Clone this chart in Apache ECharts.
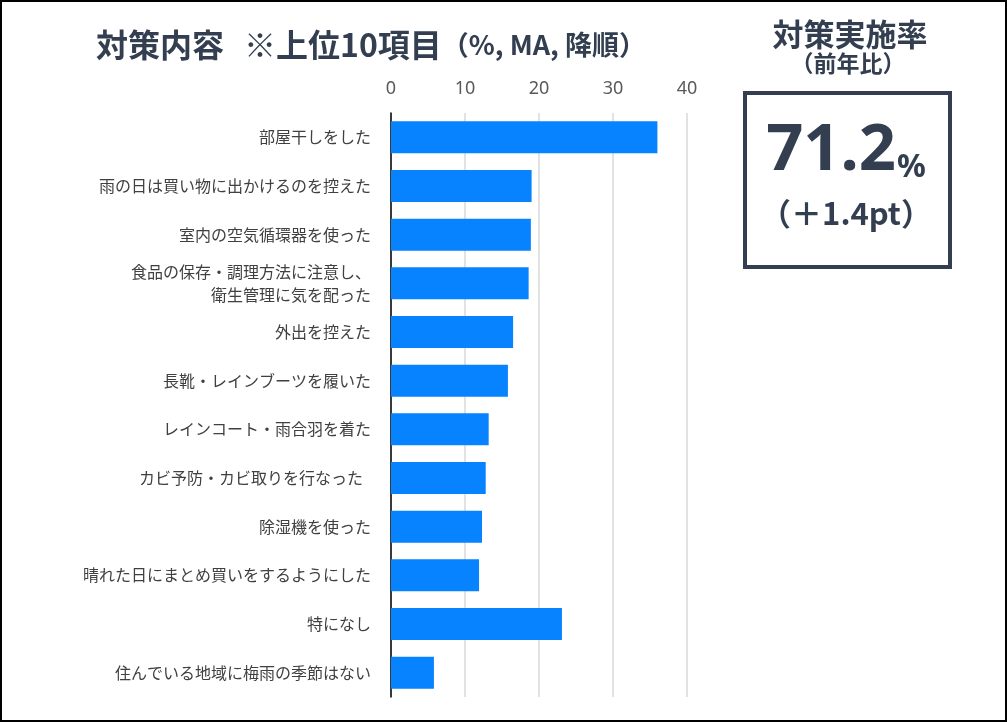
<!DOCTYPE html>
<html><head><meta charset="utf-8">
<script src="https://cdn.jsdelivr.net/npm/echarts@6/dist/echarts.min.js"></script>
<style>html,body{margin:0;padding:0;background:#fff}#c{width:1007px;height:722px}</style>
</head><body><div id="c"></div>
<script>
const categories = [
  '部屋干しをした',
  '雨の日は買い物に出かけるのを控えた',
  '室内の空気循環器を使った',
  '食品の保存・調理方法に注意し、\n衛生管理に気を配った',
  '外出を控えた',
  '長靴・レインブーツを履いた',
  'レインコート・雨合羽を着た',
  'カビ予防・カビ取りを行なった\u2002',
  '除湿機を使った',
  '晴れた日にまとめ買いをするようにした',
  '特になし',
  '住んでいる地域に梅雨の季節はない'
];
const values = [36.0, 19.0, 18.9, 18.6, 16.5, 15.8, 13.2, 12.8, 12.3, 11.9, 23.1, 5.8];
const xTicks = [0, 10, 20, 30, 40];
const rateText = '71.2';
const diffText = '（＋1.4pt）';

const navy = '#333f50';
const chart = echarts.init(document.getElementById('c'));
chart.setOption({
  animation: false,
  backgroundColor: '#fff',
  grid: { left: 391, right: 320, top: 113, bottom: 25, containLabel: false },
  xAxis: {
    type: 'value', position: 'top',
    min: xTicks[0], max: xTicks[xTicks.length - 1], interval: 10,
    axisLine: { show: false }, axisTick: { show: false },
    axisLabel: { color: '#595959', fontSize: 18, fontFamily: 'Noto Sans', margin: 15 },
    splitLine: { lineStyle: { color: '#d9d9d9', width: 1.5 } }
  },
  yAxis: {
    type: 'category', inverse: true, data: categories,
    axisLine: { lineStyle: { color: '#000', width: 1.5 } },
    axisTick: { show: false },
    axisLabel: { color: '#404040', fontSize: 16, margin: 20, lineHeight: 23,
      fontFamily: 'Noto Sans CJK JP', align: 'right' }
  },
  series: [{
    type: 'bar', data: values, barWidth: 32,
    itemStyle: { color: '#0783ff' }
  }],
  graphic: [
    { type: 'rect', shape: { x: 1, y: 1, width: 1005, height: 720 },
      style: { fill: 'none', stroke: '#000', lineWidth: 2 }, z: 100 },
    { type: 'text', style: { x: 96, y: 45, textVerticalAlign: 'middle',
      rich: {
        a: { fontSize: 32, fontWeight: 'bold', fill: navy, fontFamily: 'Noto Sans CJK JP' },
        g: { width: 20, fontSize: 32 },
        b: { fontSize: 27, fontWeight: 'bold', fill: navy, fontFamily: 'Noto Sans CJK JP' }
      },
      text: '{a|対策内容}{g| }{a|※上位10項目}{b|（%, MA, 降順）}' } },
    { type: 'text', style: { x: 850, y: 34, text: '対策実施率', textAlign: 'center', textVerticalAlign: 'middle',
      font: 'bold 31px "Noto Sans CJK JP"', fill: navy } },
    { type: 'text', style: { x: 848, y: 63, text: '（前年比）', textAlign: 'center', textVerticalAlign: 'middle',
      font: 'bold 23px "Noto Sans CJK JP"', fill: navy } },
    { type: 'rect', shape: { x: 745, y: 93, width: 205, height: 174 },
      style: { fill: 'none', stroke: navy, lineWidth: 4 } },
    { type: 'text', style: { x: 896, y: 184, text: rateText, textAlign: 'right', textVerticalAlign: 'bottom',
      font: 'bold 65px "Noto Sans"', fill: navy } },
    { type: 'text', style: { x: 897, y: 184, text: '%', textAlign: 'left', textVerticalAlign: 'bottom',
      font: 'bold 32px "Noto Sans"', fill: navy } },
    { type: 'text', style: { x: 846, y: 213, text: diffText, textAlign: 'center', textVerticalAlign: 'middle',
      font: 'bold 31px "Noto Sans CJK JP"', fill: navy } }
  ]
});
</script></body></html>
